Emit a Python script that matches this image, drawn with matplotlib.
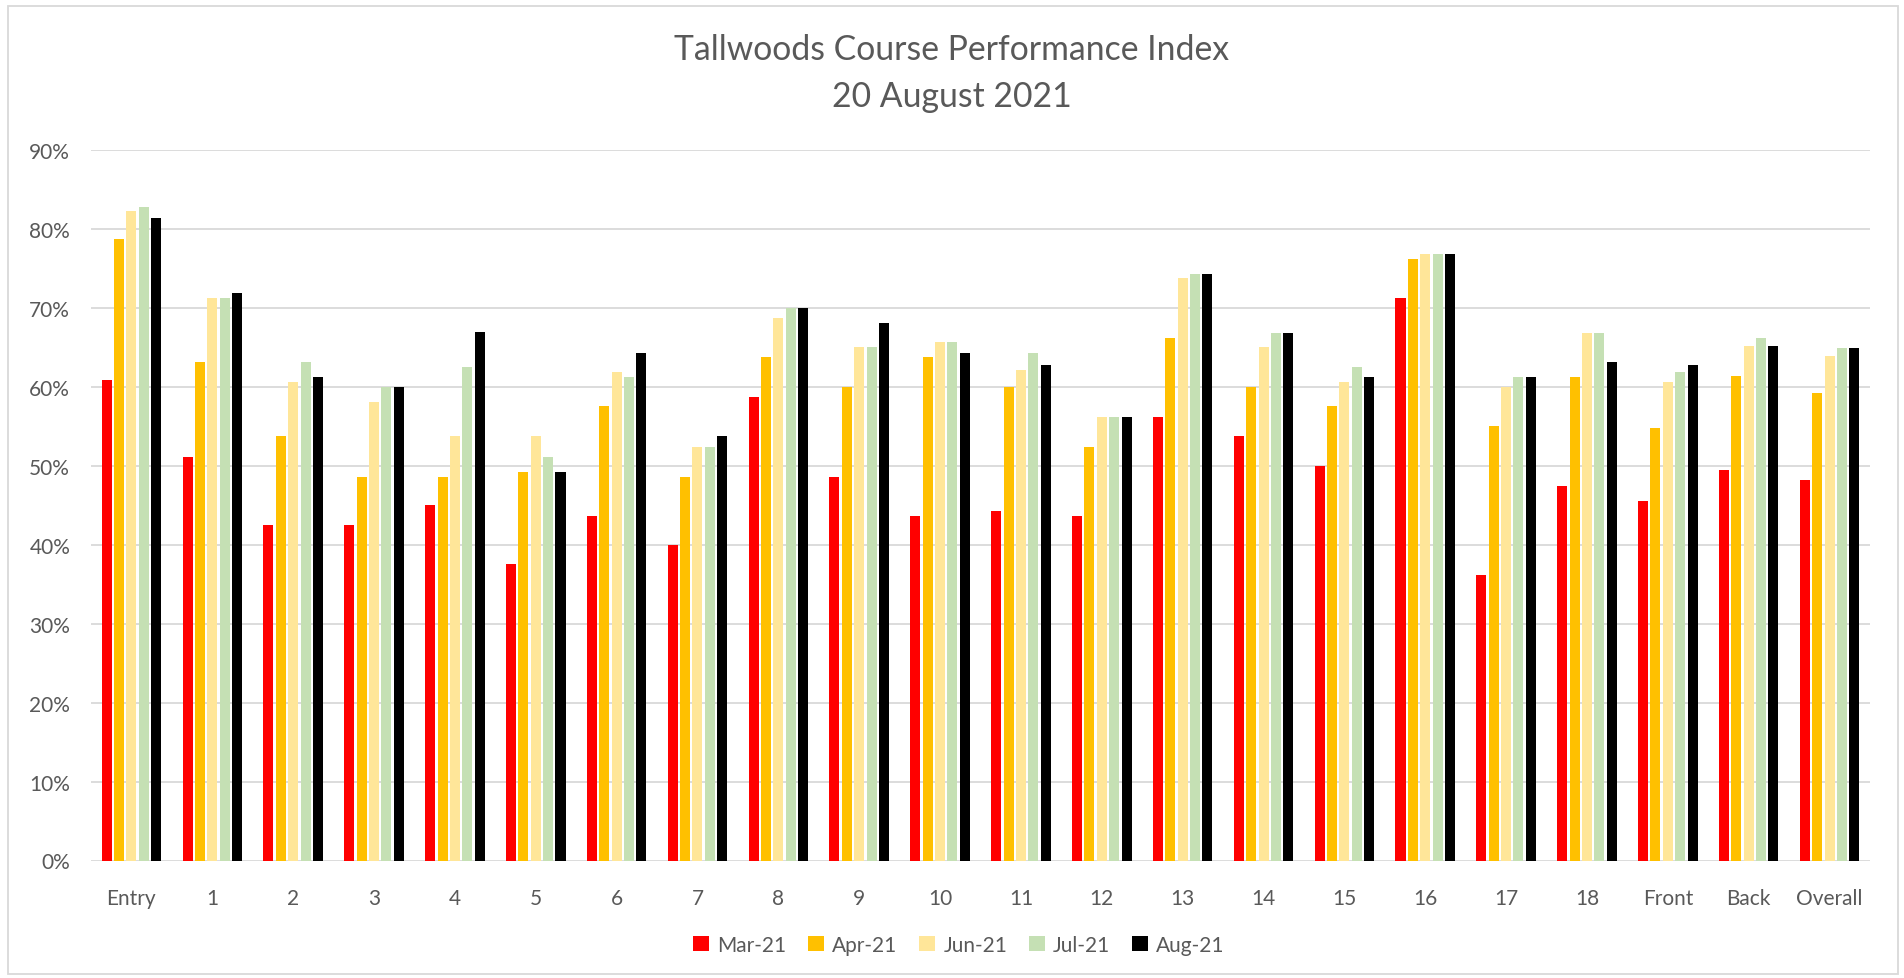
import matplotlib
matplotlib.use('Agg')
import matplotlib.pyplot as plt
from matplotlib.patches import Rectangle
import numpy as np

categories = ["Entry", "1", "2", "3", "4", "5", "6", "7", "8", "9", "10", "11",
              "12", "13", "14", "15", "16", "17", "18", "Front", "Back", "Overall"]

mar21 = [60.8, 51.1, 42.5, 42.5, 45.0, 37.5, 43.6, 40.0, 58.7, 48.6, 43.6, 44.2,
         43.6, 56.2, 53.7, 50.0, 71.2, 36.2, 47.4, 45.5, 49.5, 48.2]
apr21 = [78.7, 63.1, 53.7, 48.6, 48.6, 49.2, 57.5, 48.6, 63.7, 60.0, 63.7, 60.0,
         52.4, 66.2, 60.0, 57.5, 76.2, 55.0, 61.2, 54.8, 61.3, 59.2]
jun21 = [82.2, 71.2, 60.6, 58.1, 53.7, 53.7, 61.8, 52.4, 68.7, 65.0, 65.6, 62.1,
         56.2, 73.7, 65.0, 60.6, 76.8, 60.0, 66.8, 60.6, 65.2, 63.9]
jul21 = [82.7, 71.2, 63.1, 60.0, 62.5, 51.1, 61.2, 52.4, 70.0, 65.0, 65.6, 64.2,
         56.2, 74.3, 66.8, 62.5, 76.8, 61.2, 66.8, 61.8, 66.1, 64.9]
aug21 = [81.3, 71.8, 61.2, 60.0, 66.9, 49.2, 64.3, 53.7, 70.0, 68.1, 64.3, 62.8,
         56.2, 74.3, 66.8, 61.2, 76.8, 61.2, 63.1, 62.8, 65.2, 64.9]

series_names = ["Mar-21", "Apr-21", "Jun-21", "Jul-21", "Aug-21"]
colors = ["#FF0000", "#FFC000", "#FFE699", "#C5E0B4", "#000000"]

text_color = "#595959"
grid_color = "#D9D9D9"
plt.rcParams['font.family'] = ['Lato', 'DejaVu Sans']

fig = plt.figure(figsize=(19.04, 9.79), dpi=100)
ax = fig.add_axes([91 / 1904, 117.5 / 979, 1779 / 1904, 710.8 / 979])

x = np.arange(len(categories))
pitch = 0.153
all_series = [mar21, apr21, jun21, jul21, aug21]
for i, (vals, name, c) in enumerate(zip(all_series, series_names, colors)):
    ax.bar(x + (i - 2) * pitch, np.array(vals) / 100, width=0.124, color=c,
           label=name, zorder=3)

ax.set_xlim(-0.5, len(categories) - 0.5)
ax.set_ylim(0, 0.9)
ax.set_yticks(np.arange(0, 0.91, 0.1))
ax.set_yticklabels([f"{int(round(v * 100))}%" for v in np.arange(0, 0.91, 0.1)])
ax.set_xticks(x)
ax.set_xticklabels(categories)
ax.tick_params(axis='both', length=0, labelsize=15, colors=text_color)
ax.tick_params(axis='x', pad=20)
ax.tick_params(axis='y', pad=15)
ax.grid(axis='y', color=grid_color, linewidth=1.3, zorder=0)
for s in ax.spines.values():
    s.set_visible(False)

fig.text(0.5, 1 - 50 / 979, "Tallwoods Course Performance Index", ha='center',
         va='center', fontsize=24.3, color=text_color)
fig.text(0.5, 1 - 97 / 979, "20 August 2021", ha='center', va='center',
         fontsize=24.3, color=text_color)

fig.legend(loc='center', bbox_to_anchor=(959 / 1904, 1 - 946 / 979), ncol=5,
           frameon=False, fontsize=15, handlelength=0.75, handleheight=0.75,
           handletextpad=0.4, columnspacing=1.05, labelcolor=text_color)

fig.patches.append(Rectangle((8 / 1904, 4 / 979), 1890 / 1904, 968 / 979,
                             transform=fig.transFigure, fill=False,
                             edgecolor=grid_color, linewidth=1.3))

fig.savefig("out.png", dpi=100, facecolor='white')
